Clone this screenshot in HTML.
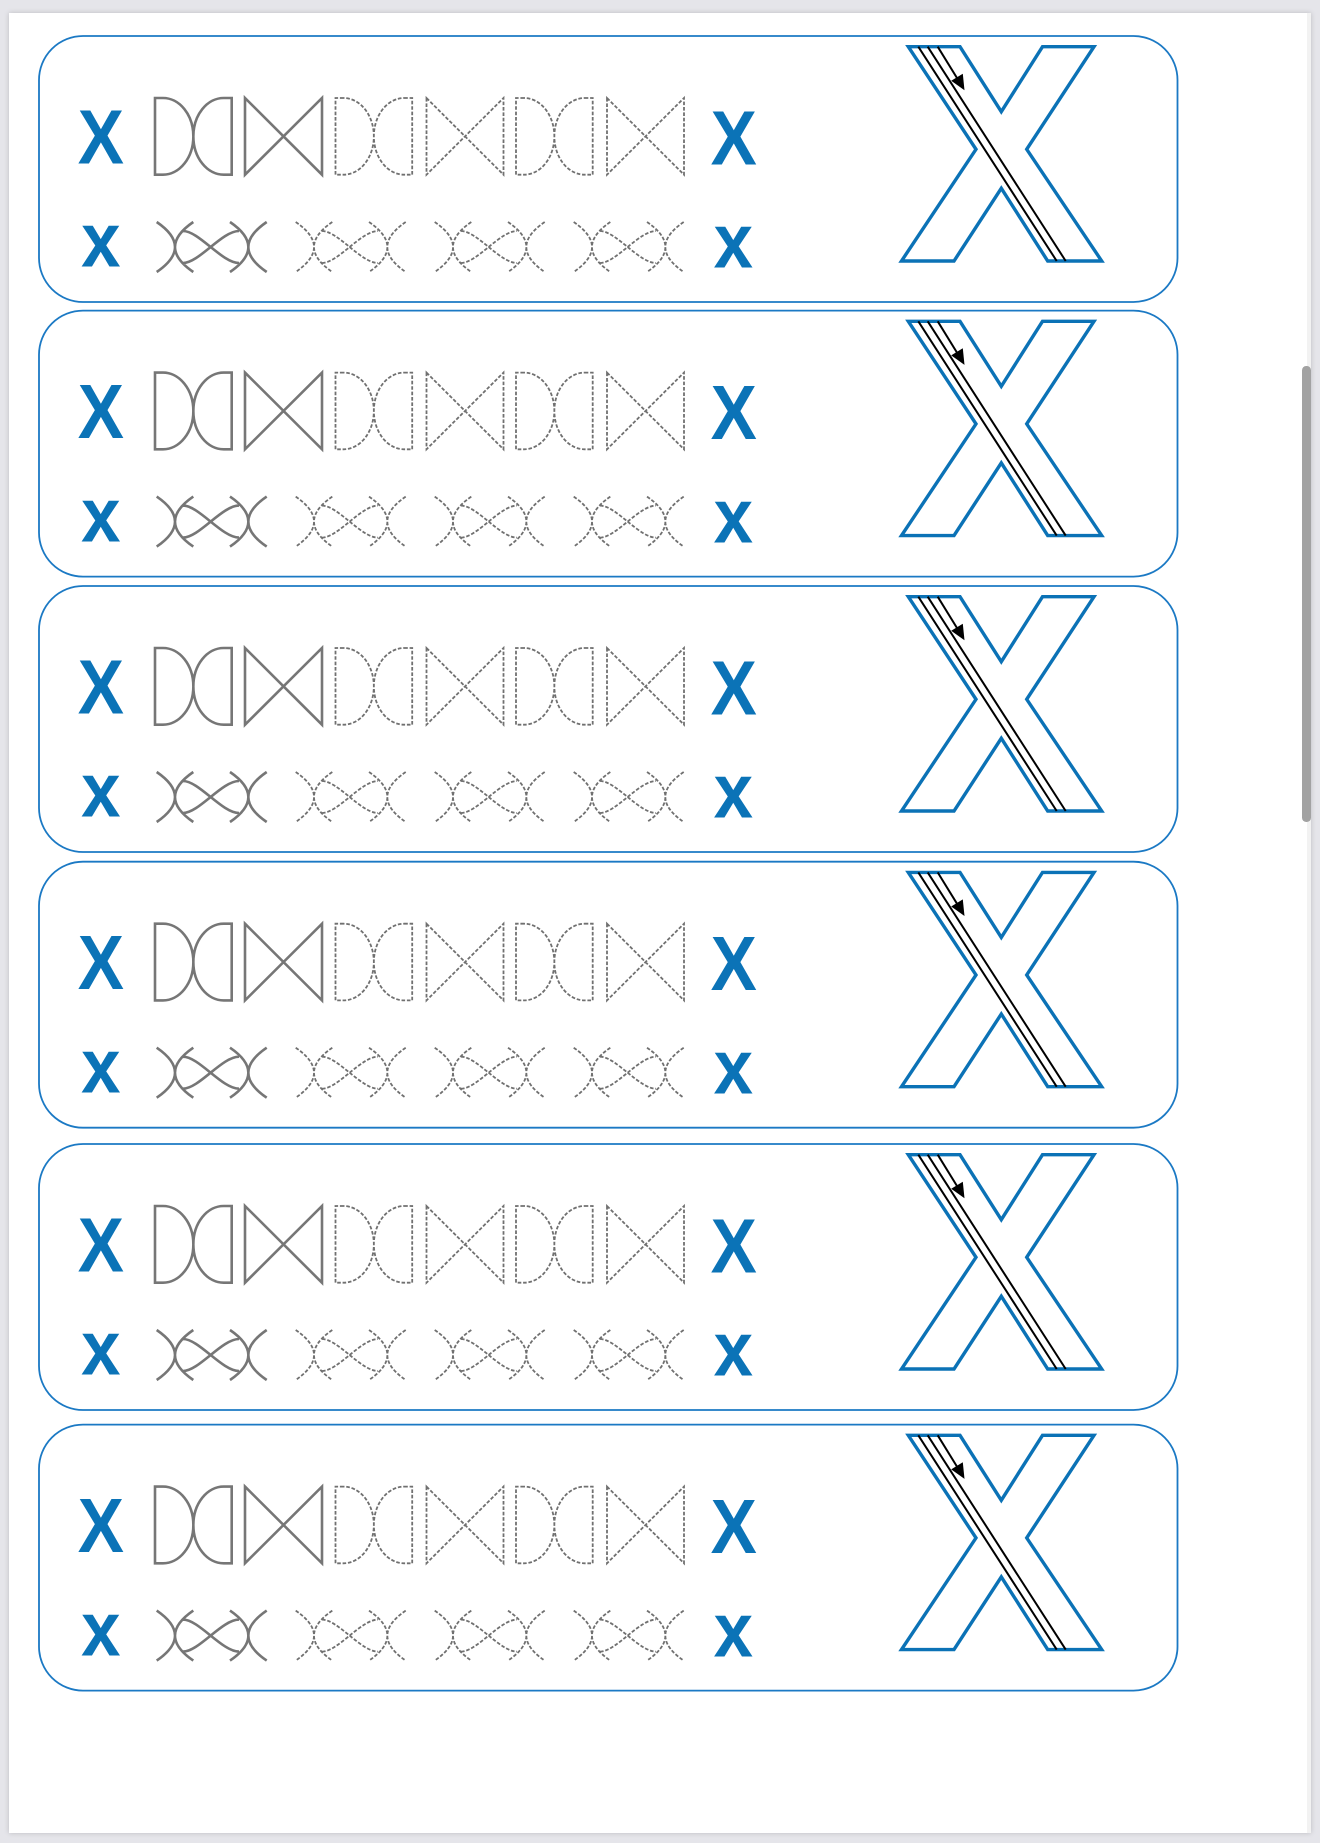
<!DOCTYPE html>
<html>
<head>
<meta charset="utf-8">
<style>
html,body{margin:0;padding:0;}
body{width:1320px;height:1843px;background:#e5e5ea;position:relative;overflow:hidden;}
#page{position:absolute;left:9px;top:12.5px;width:1302px;height:1820px;background:#fff;box-shadow:0 0 5px rgba(0,0,0,0.18);}
#track{position:absolute;left:1306.5px;top:12.5px;width:4.5px;height:1820px;background:#f2f2f2;}
#thumb{position:absolute;left:1302.3px;top:366px;width:8.4px;height:456px;background:#a2a2a2;border-radius:4.2px;}
svg{position:absolute;left:0;top:0;}
.t{font-family:"Liberation Sans",Arial,sans-serif;font-weight:bold;fill:#0b73b7;text-anchor:middle;font-size:77px;}
</style>
</head>
<body>
<div id="page"></div>
<div id="track"></div>
<div id="thumb"></div>
<svg width="1320" height="1843" viewBox="0 0 1320 1843" xmlns="http://www.w3.org/2000/svg">
<defs>
<path id="dd" d="M8,0 H0 V76.7 H8 A30.35 38.35 0 0 0 8,0 Z M68.7,0 H76.7 V76.7 H68.7 A30.35 38.35 0 0 1 68.7,0 Z"/>
<path id="bt" d="M0,0 L77,76.7 L77,0 L0,76.7 Z"/>
<path id="lx" d="M2.7,0 Q39.3,25 2.7,50 M39.3,0 Q2.7,25 39.3,50 M76,0 Q112.7,25 76,50 M112.7,0 Q76,25 112.7,50 M29,9 C45,9 68,41 85,41 M29,41 C45,41 68,9 85,9"/>
<g id="panel">
  <rect x="39" y="0" width="1138.5" height="266" rx="44" ry="44" fill="none" stroke="#1b79c4" stroke-width="1.8"/>
  <g fill="none" stroke="#767676" stroke-width="2.6">
    <use href="#dd" x="155" y="62"/>
    <use href="#bt" x="245" y="62"/>
    <use href="#lx" x="154" y="186"/>
  </g>
  <g fill="none" stroke="#707070" stroke-width="1.8" stroke-dasharray="3.6 1.8">
    <use href="#dd" x="335.5" y="62"/>
    <use href="#bt" x="426.5" y="62"/>
    <use href="#dd" x="516" y="62"/>
    <use href="#bt" x="607" y="62"/>
    <use href="#lx" x="293" y="186"/>
    <use href="#lx" x="432" y="186"/>
    <use href="#lx" x="571" y="186"/>
  </g>
  <polygon points="908.3,10.7 960,10.7 1001.3,75.7 1042.5,10.7 1094,10.7 1026.7,113.3 1101.7,225 1047.7,225 1001.3,152.3 954,225 901.5,225 976,113.3" fill="none" stroke="#0b72b6" stroke-width="3.4" stroke-linejoin="miter"/>
  <g stroke="#000" stroke-width="2" fill="none">
    <line x1="918.3" y1="10.7" x2="1056.7" y2="225"/>
    <line x1="927.7" y1="10.7" x2="1065.7" y2="225"/>
    <line x1="937.7" y1="10.7" x2="957" y2="42"/>
  </g>
  <polygon points="964.5,54.3 962.8,37.7 951.2,44.8" fill="#000"/>
</g>
</defs>

<!-- Panel 1 -->
<g transform="translate(0,36)">
  <use href="#panel"/>
  <text class="t" transform="translate(100.8,127.3) scale(0.9,1)">X</text>
  <text class="t" transform="translate(100.8,230.7) scale(0.92,1)">x</text>
  <text class="t" transform="translate(733.7,128.3) scale(0.9,1)">X</text>
  <text class="t" transform="translate(733.3,231.7) scale(0.92,1)">x</text>
</g>
<!-- Panel 2 -->
<g transform="translate(0,310.6)">
  <use href="#panel"/>
  <text class="t" transform="translate(100.8,127.3) scale(0.9,1)">X</text>
  <text class="t" transform="translate(100.8,230.7) scale(0.92,1)">x</text>
  <text class="t" transform="translate(733.7,128.3) scale(0.9,1)">X</text>
  <text class="t" transform="translate(733.3,231.7) scale(0.92,1)">x</text>
</g>
<!-- Panel 3 -->
<g transform="translate(0,586)">
  <use href="#panel"/>
  <text class="t" transform="translate(100.8,127.3) scale(0.9,1)">X</text>
  <text class="t" transform="translate(100.8,230.7) scale(0.92,1)">x</text>
  <text class="t" transform="translate(733.7,128.3) scale(0.9,1)">X</text>
  <text class="t" transform="translate(733.3,231.7) scale(0.92,1)">x</text>
</g>
<!-- Panel 4 -->
<g transform="translate(0,861.7)">
  <use href="#panel"/>
  <text class="t" transform="translate(100.8,127.3) scale(0.9,1)">X</text>
  <text class="t" transform="translate(100.8,230.7) scale(0.92,1)">x</text>
  <text class="t" transform="translate(733.7,128.3) scale(0.9,1)">X</text>
  <text class="t" transform="translate(733.3,231.7) scale(0.92,1)">x</text>
</g>
<!-- Panel 5 -->
<g transform="translate(0,1144)">
  <use href="#panel"/>
  <text class="t" transform="translate(100.8,127.3) scale(0.9,1)">X</text>
  <text class="t" transform="translate(100.8,230.7) scale(0.92,1)">x</text>
  <text class="t" transform="translate(733.7,128.3) scale(0.9,1)">X</text>
  <text class="t" transform="translate(733.3,231.7) scale(0.92,1)">x</text>
</g>
<!-- Panel 6 -->
<g transform="translate(0,1424.6)">
  <use href="#panel"/>
  <text class="t" transform="translate(100.8,127.3) scale(0.9,1)">X</text>
  <text class="t" transform="translate(100.8,230.7) scale(0.92,1)">x</text>
  <text class="t" transform="translate(733.7,128.3) scale(0.9,1)">X</text>
  <text class="t" transform="translate(733.3,231.7) scale(0.92,1)">x</text>
</g>
</svg>
</body>
</html>
